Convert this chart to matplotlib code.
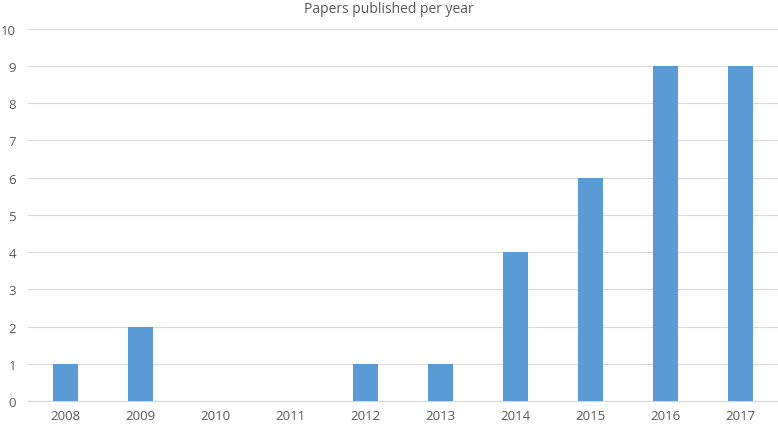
import matplotlib
matplotlib.use("Agg")
import matplotlib.pyplot as plt

years = ["2008", "2009", "2010", "2011", "2012", "2013", "2014", "2015", "2016", "2017"]
papers = [1, 2, 0, 0, 1, 1, 4, 6, 9, 9]
yticks = [0, 1, 2, 3, 4, 5, 6, 7, 8, 9, 10]

plt.rcParams['font.family'] = ['Open Sans', 'DejaVu Sans']

fig = plt.figure(figsize=(7.78, 4.27), dpi=100)
ax = fig.add_axes([0.036, 0.0585, 0.964, 0.872])
x = list(range(len(years)))
ax.bar(x, papers, width=0.33, color="#5B9BD5", zorder=3)
ax.set_xlim(-0.5, len(years) - 0.5)
ax.set_ylim(0, 10)
ax.set_yticks(yticks)
ax.set_xticks(x)
ax.set_xticklabels(years)
ax.grid(axis="y", color="#D9D9D9", linewidth=0.8, zorder=0)
for s in ["top", "right", "left"]:
    ax.spines[s].set_visible(False)
ax.spines["bottom"].set_color("#D9D9D9")
ax.spines["bottom"].set_linewidth(0.8)
ax.tick_params(axis="both", length=0, labelsize=9.5, labelcolor="#595959")
ax.tick_params(axis="x", pad=6)
ax.tick_params(axis="y", pad=8.5)
fig.text(0.5, 0.978, "Papers published per year", ha="center", va="center",
         fontsize=10, color="#595959")
fig.savefig("out.png", dpi=100)
